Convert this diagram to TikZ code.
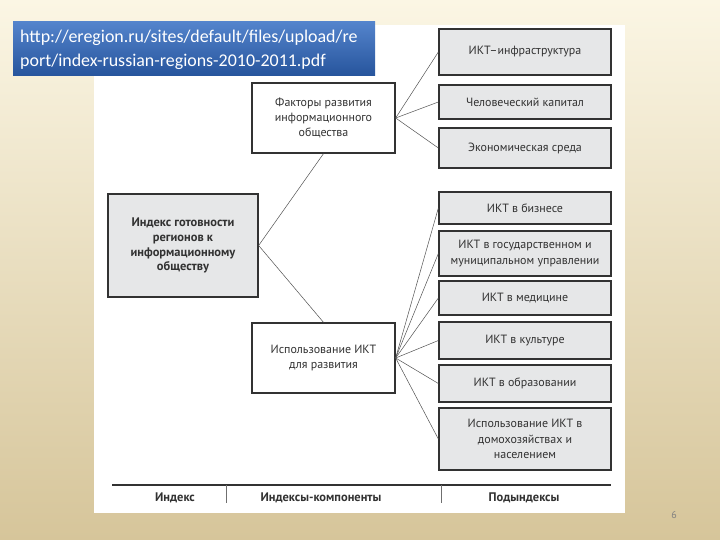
\documentclass[tikz,border=0pt]{standalone}
\usepackage{fontspec}
\setmainfont{PT Sans}
\newfontfamily\linkfont{Carlito}
\usetikzlibrary{positioning}

\definecolor{boxgray}{RGB}{230,231,232}
\definecolor{inkgray}{RGB}{50,50,50}
\definecolor{creamtop}{RGB}{251,246,228}
\definecolor{creammid}{RGB}{243,233,200}
\definecolor{creambot}{RGB}{214,197,154}
\definecolor{linktop}{RGB}{84,132,204}
\definecolor{linkbot}{RGB}{38,84,156}

\begin{document}
\begin{tikzpicture}[x=1bp, y=-1bp,
    box/.style={draw=inkgray, line width=1.3pt, text=inkgray, align=center,
        font=\fontsize{12}{15.5}\selectfont, inner sep=2pt},
    subbox/.style={box, fill=boxgray, minimum width=172bp},
    compbox/.style={box, fill=white, minimum width=143bp, minimum height=70bp},
    legend/.style={text=inkgray, font=\fontsize{12.5}{14}\selectfont\bfseries},
    branch/.style={draw=inkgray!85, line width=0.5pt}]
    % background and sheet
    \shade[top color=creamtop, middle color=creammid, bottom color=creambot]
        (0,0) rectangle (720,540);
    \fill[white] (94,25) rectangle (625,513);

    % index
    \node[box, fill=boxgray, minimum width=150bp, minimum height=103bp,
          font=\fontsize{12.5}{15}\selectfont\bfseries] (index) at (183,245.5)
        {Индекс готовности\\регионов к\\информационному\\обществу};

    % components
    \node[compbox] (factors) at (323.5,118)
        {Факторы развития\\информационного\\общества};
    \node[compbox] (usage) at (323.5,358)
        {Использование ИКТ\\для развития};

    % subindices
    \node[subbox, minimum height=46bp] (infra) at (525,52) {ИКТ–инфраструктура};
    \node[subbox, minimum height=34bp] (human) at (525,102) {Человеческий капитал};
    \node[subbox, minimum height=40bp] (econ)  at (525,148) {Экономическая среда};
    \node[subbox, minimum height=32bp] (business) at (525,208) {ИКТ в бизнесе};
    \node[subbox, minimum height=45bp] (govern) at (525,253.5)
        {ИКТ в государственном и\\муниципальном управлении};
    \node[subbox, minimum height=34bp] (medicine) at (525,298) {ИКТ в медицине};
    \node[subbox, minimum height=37bp] (culture) at (525,340.5) {ИКТ в культуре};
    \node[subbox, minimum height=37bp] (education) at (525,383.5) {ИКТ в образовании};
    \node[subbox, minimum height=62bp] (household) at (525,439)
        {Использование ИКТ в\\домохозяйствах и\\населением};

    % connectors
    \draw[branch] (index.east) -- (factors.south);
    \draw[branch] (index.east) -- (usage.north);
    \foreach \s in {infra, human, econ}
        \draw[branch] (factors.east) -- (\s.west);
    \foreach \s in {business, govern, medicine, culture, education, household}
        \draw[branch] (usage.east) -- (\s.west);

    % legend row
    \draw[inkgray, line width=1.3pt] (112,485) -- (611,485);
    \draw[inkgray!70, line width=0.6pt] (226,485) -- (226,503);
    \draw[inkgray!70, line width=0.6pt] (441,485) -- (441,503);
    \node[legend] (lindex) at (175,498) {Индекс};
    \node[legend] (lcomp) at (321,498) {Индексы-компоненты};
    \node[legend] (lsub) at (524,498) {Подындексы};

    % source link
    \shade[top color=linktop, bottom color=linkbot] (13,22) rectangle (375,76);
    \node[anchor=north west, text=white, align=left, inner sep=0pt,
          font=\linkfont\fontsize{18}{24}\selectfont] (source) at (20,30)
        {http://eregion.ru/sites/default/files/upload/re\\port/index-russian-regions-2010-2011.pdf};

    % page number
    \node[text=gray, font=\fontsize{10}{12}\selectfont] (page) at (674,515) {6};
\end{tikzpicture}
\end{document}
